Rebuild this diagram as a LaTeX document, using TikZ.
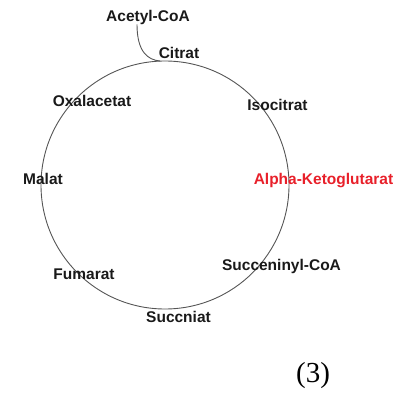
\documentclass[tikz,border=0pt]{standalone}
\usepackage{fontspec}
\setmainfont{Liberation Serif}
\newfontfamily\labfont{Liberation Sans}
\definecolor{ringgray}{HTML}{555555}
\definecolor{akgred}{HTML}{E8202A}
\tikzset{
  lab/.style={font=\labfont\bfseries\fontsize{15.5}{18}\selectfont, inner sep=0pt, text=black!90},
  ring/.style={draw=ringgray, line width=0.9pt},
}
\begin{document}
\begin{tikzpicture}[x=1pt,y=-1pt]
\useasboundingbox (0,0) rectangle (399,393);
\node[draw=none,fill=none,circle,minimum size=248pt,inner sep=0pt] (ring) at (165,185) {};
\draw[ring] (165,185) circle [radius=124];
\node[lab] (acetyl) at (148,17) {Acetyl-CoA};
\node[lab] (citrat) at (179,53) {Citrat};
\node[lab] (oxal) at (92,101) {Oxalacetat};
\node[lab] (isoc) at (277.5,105) {Isocitrat};
\node[lab] (malat) at (43,179) {Malat};
\node[lab, text=akgred] (akg) at (323.5,180.5) {Alpha-Ketoglutarat};
\node[lab] (succoa) at (281.5,266) {Succeninyl-CoA};
\node[lab] (fum) at (84,274) {Fumarat};
\node[lab] (succ) at (178.5,316.5) {Succniat};
\node[font=\fontsize{29}{33}\selectfont, inner sep=0pt] (num) at (313,376) {(3)};
\coordinate (join) at (160,61);
\draw[ring] ([xshift=-11pt]acetyl.south) .. controls (137,52) and (148,60) .. (join);
\end{tikzpicture}
\end{document}
